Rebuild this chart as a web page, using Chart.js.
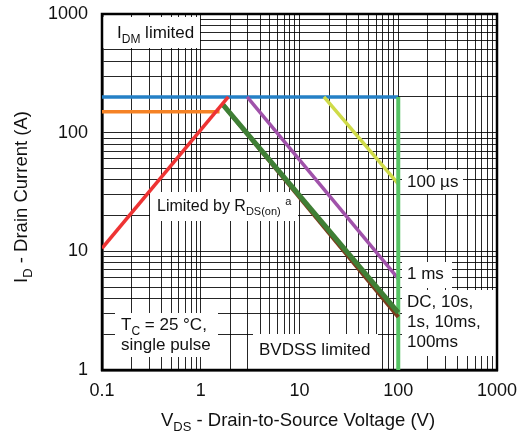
<!DOCTYPE html>
<html>
<head>
<meta charset="utf-8">
<script src="https://cdn.jsdelivr.net/npm/chart.js@4/dist/chart.umd.min.js"></script>
<style>
  html, body { margin: 0; padding: 0; background: #fff; }
  #wrap { width: 517px; height: 436px; }
</style>
</head>
<body>
<div id="wrap"><canvas id="soaChart" width="517" height="436"></canvas></div>
<script>
// tick labels
var xTicks = [0.1, 1, 10, 100, 1000];
var yTicks = [1, 10, 100, 1000];

// limit lines (V, A)
var idmX = [0.1, 100],  idmY = [200, 200];      // I_DM limited
var pkX = [0.1, 1.55],  pkY = [150, 150];       // package limit
var rdsX = [0.1, 1.9],  rdsY = [10.6, 200];     // R_DS(on) limit
var us100X = [17.7, 100], us100Y = [200, 37];   // 100 us
var ms1X = [2.95, 100], ms1Y = [200, 5.9];      // 1 ms
var ms100X = [1.65, 100], ms100Y = [175, 3.05]; // 100 ms
var dcX = [1.65, 100],  dcY = [175, 2.8];       // DC
var bvX = [100, 100],   bvY = [200, 1];         // BVDSS limited

function pts(xs, ys) {
    return xs.map(function(x, i) { return {x: x, y: ys[i]}; });
}

function gridValues(lo, hi) {
    var vals = [];
    for (var d = lo; d < hi * 0.99; d *= 10) {
        for (var m = 1; m <= 9; m++) vals.push(m * d);
    }
    vals.push(hi);
    return vals;
}

var FONT = '"Liberation Sans", Arial, sans-serif';

// text drawing with subscripts
function subSize(size) { return Math.round(size * 0.7); }
function richWidth(ctx, parts, size) {
    var w = 0;
    parts.forEach(function(p) {
        ctx.font = (p.sub || p.sup ? subSize(size) : size) + 'px ' + FONT;
        w += ctx.measureText(p.t).width;
    });
    return w;
}
function drawRich(ctx, parts, x, y, size) {
    parts.forEach(function(p) {
        ctx.font = (p.sub || p.sup ? subSize(size) : size) + 'px ' + FONT;
        var dy = p.sub ? size * 0.28 : (p.sup ? -size * 0.38 : 0);
        ctx.fillText(p.t, x, y + dy);
        x += ctx.measureText(p.t).width;
    });
}

var notes = [
    {box: [103, 17, 200, 48], lines: [[{t: 'I'}, {t: 'DM', sub: true}, {t: ' limited'}]], x: 117, y: 38, size: 17},
    {box: [150, 192, 298, 221], lines: [[{t: 'Limited by R'}, {t: 'DS(on)', sub: true}, {t: ' '}, {t: 'a', sup: true}]], x: 157, y: 211, size: 16},
    {box: [115, 313, 218, 357], lines: [[{t: 'T'}, {t: 'C', sub: true}, {t: ' = 25 \u00b0C,'}], [{t: 'single pulse'}]], x: 121, y: 330, lh: 20, size: 17},
    {box: [253, 334, 378, 369], lines: [[{t: 'BVDSS limited'}]], x: 259, y: 355, size: 17},
    {box: [402, 170, 463, 194], lines: [[{t: '100 \u00b5s'}]], x: 407, y: 187, size: 17},
    {box: [402, 262, 452, 288], lines: [[{t: '1 ms'}]], x: 407, y: 279, size: 17},
    {box: [402, 290, 496, 356], lines: [[{t: 'DC, 10s,'}], [{t: '1s, 10ms,'}], [{t: '100ms'}]], x: 407, y: 307, lh: 20, size: 17}
];

var decorPlugin = {
    id: 'decor',
    beforeDatasetsDraw: function(chart) {
        var ctx = chart.ctx, a = chart.chartArea;
        ctx.save();
        ctx.fillStyle = '#fff';
        notes.forEach(function(n) {
            ctx.fillRect(n.box[0], n.box[1], n.box[2] - n.box[0], n.box[3] - n.box[1]);
        });
        ctx.fillStyle = '#111';
        ctx.textBaseline = 'alphabetic';
        ctx.textAlign = 'left';
        notes.forEach(function(n) {
            n.lines.forEach(function(l, i) {
                drawRich(ctx, l, n.x, n.y + i * (n.lh || 0), n.size);
            });
        });
        ctx.strokeStyle = '#000';
        ctx.lineWidth = 2.5;
        ctx.strokeRect(a.left, a.top, a.right - a.left, a.bottom - a.top);

        // axis titles
        var xt = [{t: 'V'}, {t: 'DS', sub: true}, {t: ' - Drain-to-Source Voltage (V)'}];
        var w = richWidth(ctx, xt, 18.5);
        drawRich(ctx, xt, 298 - w / 2, 426, 18.5);
        var yt = [{t: 'I'}, {t: 'D', sub: true}, {t: ' - Drain Current (A)'}];
        w = richWidth(ctx, yt, 18.5);
        ctx.translate(27, 197);
        ctx.rotate(-Math.PI / 2);
        drawRich(ctx, yt, -w / 2, 0, 18.5);
        ctx.restore();
    }
};

function line(xs, ys, color, width) {
    return {
        data: pts(xs, ys),
        borderColor: color,
        backgroundColor: color,
        borderWidth: width,
        pointRadius: 0,
        showLine: true,
        fill: false,
        borderCapStyle: 'butt'
    };
}

var ctxSoa = document.getElementById('soaChart').getContext('2d');
var soaChart = new Chart(ctxSoa, {
    type: 'scatter',
    data: {
        datasets: [
            line(rdsX, rdsY, '#ee3333', 3.5),
            line(ms100X, ms100Y, '#3f7f35', 5),
            line(dcX, dcY, '#7a3c1c', 4),
            line(bvX, bvY, '#55c363', 4),
            line(us100X, us100Y, '#cfdb48', 3.5),
            line(ms1X, ms1Y, '#a052aa', 3.5),
            line(pkX, pkY, '#f58225', 3.5),
            line(idmX, idmY, '#2480c6', 3.5)
        ]
    },
    options: {
        responsive: false,
        animation: false,
        layout: { padding: { left: 0, top: 14, right: 20, bottom: 0 } },
        plugins: { legend: { display: false }, tooltip: { enabled: false } },
        scales: {
            x: {
                type: 'logarithmic',
                min: 0.1,
                max: 1000,
                afterBuildTicks: function(scale) {
                    scale.ticks = gridValues(0.1, 1000).map(function(v) { return {value: v}; });
                },
                afterFit: function(scale) {
                    scale.height = 66;
                    scale.paddingLeft = 0;
                    scale.paddingRight = 0;
                },
                ticks: {
                    autoSkip: false,
                    maxRotation: 0,
                    padding: 10,
                    color: '#111',
                    font: { family: FONT, size: 18 },
                    callback: function(v) {
                        return xTicks.indexOf(v) >= 0 ? String(v) : '';
                    }
                },
                grid: { color: 'rgba(0,0,0,0.85)', lineWidth: 1, drawTicks: false },
                border: { color: '#000', width: 2.5 }
            },
            y: {
                type: 'logarithmic',
                min: 1,
                max: 1000,
                afterBuildTicks: function(scale) {
                    scale.ticks = gridValues(1, 1000).map(function(v) { return {value: v}; });
                },
                afterFit: function(scale) {
                    scale.width = 102;
                    scale.paddingTop = 0;
                    scale.paddingBottom = 0;
                },
                ticks: {
                    autoSkip: false,
                    padding: 14,
                    color: '#111',
                    font: { family: FONT, size: 18 },
                    callback: function(v) {
                        return yTicks.indexOf(v) >= 0 ? String(v) : '';
                    }
                },
                grid: { color: 'rgba(0,0,0,0.85)', lineWidth: 1, drawTicks: false },
                border: { color: '#000', width: 2.5 }
            }
        }
    },
    plugins: [decorPlugin]
});
</script>
</body>
</html>
